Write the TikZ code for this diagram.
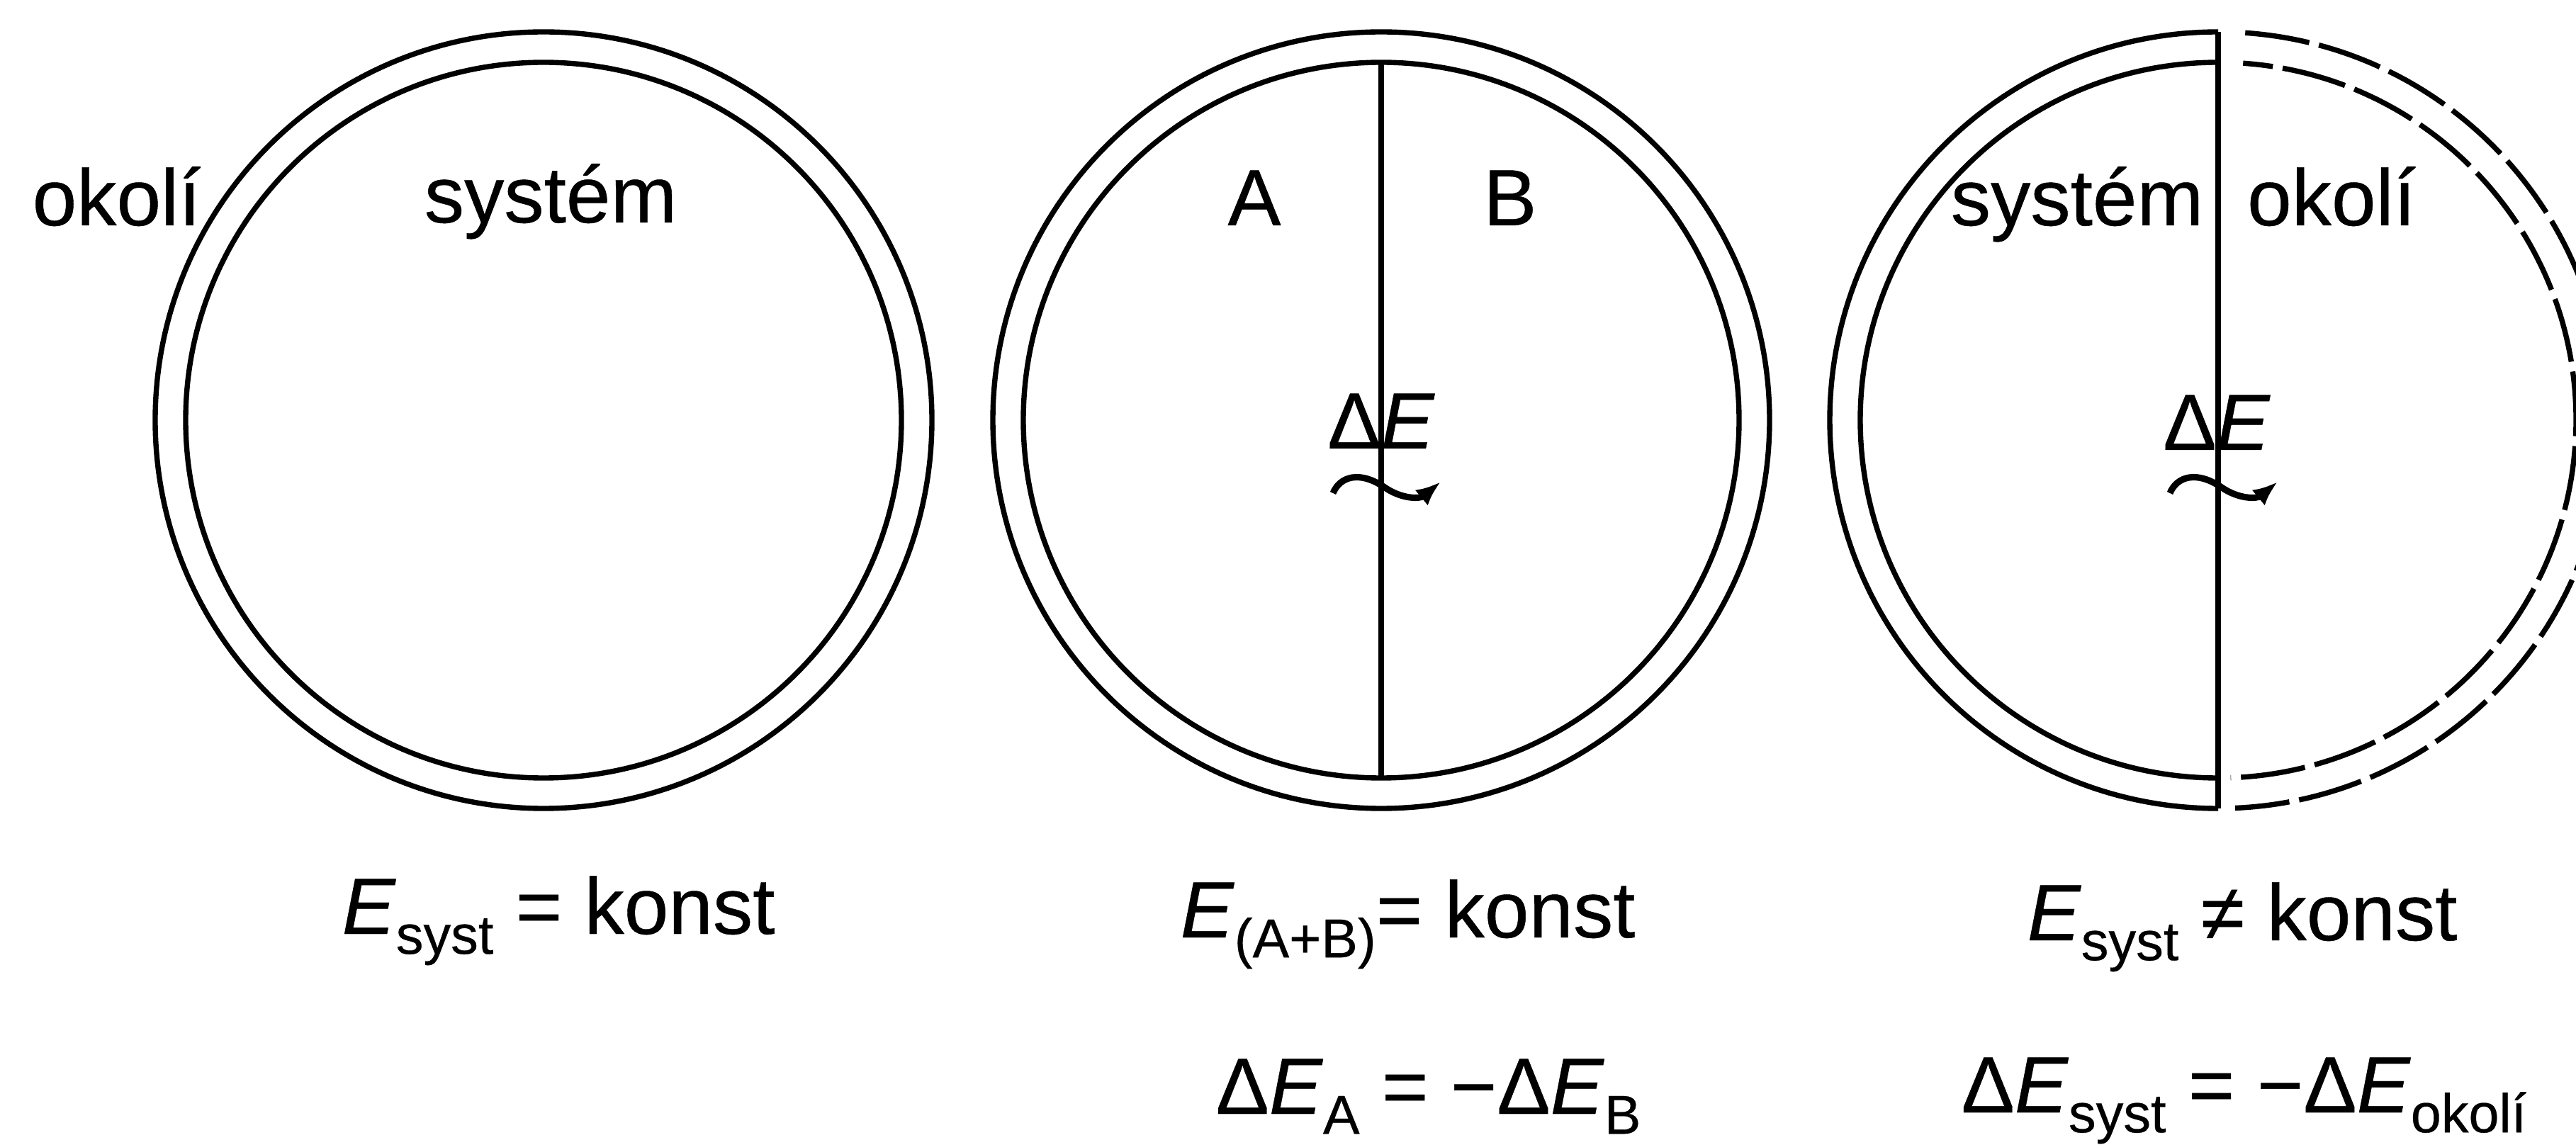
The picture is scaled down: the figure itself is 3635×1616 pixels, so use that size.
\documentclass[tikz,border=0pt]{standalone}
\usepackage{fontspec}
\setmainfont{Liberation Sans}[FakeBold=0.4]
\usetikzlibrary{arrows.meta,calc}
\newcommand\subx[1]{\raisebox{-0.25em}{\fontsize{22}{22}\selectfont #1}}
\begin{document}
\begin{tikzpicture}[x=0.01cm,y=-0.01cm,
  wall/.style={line width=2.1pt},
  divider/.style={line width=2.3pt},
  dwall/.style={line width=2.1pt, dash pattern=on 26pt off 4pt},
  lbl/.style={font=\fontsize{32}{38}\selectfont, inner sep=0pt, anchor=base},
  eq/.style={font=\fontsize{32}{38}\selectfont, inner sep=0pt, anchor=base west},
  wave/.style={line width=2.6pt, -{Latex[length=10pt,width=8pt]}}]
\useasboundingbox (0,0) rectangle (3635,1616);
\clip (0,0) rectangle (3635,1616);
% circle 1: isolated system
\coordinate (c1) at (767,593);
\draw[wall] (c1) circle[radius=548];
\draw[wall] (c1) circle[radius=505];
\node[eq] (ok1) at (45,318) {okolí};
\node[lbl] (sy1) at (777,314) {systém};
\node[eq] (f1) at (482,1318) {\textit{E}\subx{syst} = konst};
% circle 2: A and B
\coordinate (c2) at (1949,593);
\draw[wall] (c2) circle[radius=548];
\draw[wall] (c2) circle[radius=505];
\draw[divider] ($(c2)+(0,-505)$) -- ($(c2)+(0,505)$);
\node[lbl] (la) at (1770,318) {A};
\node[lbl] (lb) at (2131,318) {B};
\node[lbl] (de2) at (1949,633) {Δ\textit{E}};
\begin{scope}[shift={(1949,690)}]
\draw[wave] (-68,6) .. controls (-58,-18) and (-30,-26) .. (5,-2) .. controls (30,15) and (55,14) .. (84,-10);
\end{scope}
\node[eq] (f2) at (1665,1323) {\textit{E}\subx{(A+B)}= konst};
\node[eq] (f3) at (1715,1572) {Δ\textit{E}\subx{A} = −Δ\textit{E}\subx{B}};
% circle 3: system and surroundings
\coordinate (c3) at (3130,593);
\draw[wall] ($(c3)+(-90:548)$) arc[start angle=-90,end angle=-270,radius=548];
\draw[wall] ($(c3)+(-90:505)$) arc[start angle=-90,end angle=-270,radius=505];
\draw[divider] ($(c3)+(0,-548)$) -- ($(c3)+(0,548)$);
\draw[dwall] ($(c3)+(-86:548)$) arc[start angle=-86,end angle=87.5,radius=548];
\draw[dwall, dash phase=14pt] ($(c3)+(-86:505)$) arc[start angle=-86,end angle=88,radius=505];
\node[lbl] (sy3) at (2931,318) {systém};
\node[lbl] (ok3) at (3290,318) {okolí};
\node[lbl] (de3) at (3128,635) {Δ\textit{E}};
\begin{scope}[shift={(3130,690)}]
\draw[wave] (-68,6) .. controls (-58,-18) and (-30,-26) .. (5,-2) .. controls (30,15) and (55,14) .. (84,-10);
\end{scope}
\node[eq] (f4) at (2860,1327) {\textit{E}\subx{syst} ≠ konst};
\node[eq] (f5) at (2767,1570) {Δ\textit{E}\subx{syst} = −Δ\textit{E}\subx{okolí}};
\end{tikzpicture}
\end{document}
